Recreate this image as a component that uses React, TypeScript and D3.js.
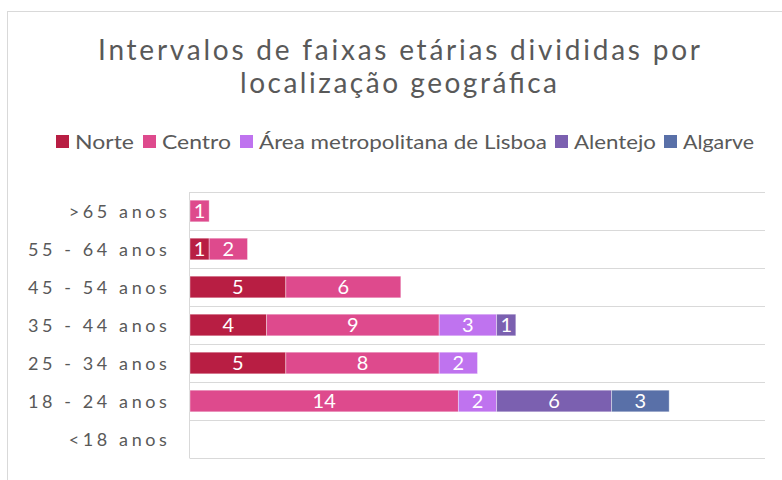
import React from "react";
import * as d3 from "d3";

const categories = [">65 anos", "55 - 64 anos", "45 - 54 anos", "35 - 44 anos", "25 - 34 anos", "18 - 24 anos", "<18 anos"];
const seriesNames = ["Norte", "Centro", "Área metropolitana de Lisboa", "Alentejo", "Algarve"];
const norte = [0, 1, 5, 4, 5, 0, 0];
const centro = [1, 2, 6, 9, 8, 14, 0];
const lisboa = [0, 0, 0, 3, 2, 2, 0];
const alentejo = [0, 0, 0, 1, 0, 6, 0];
const algarve = [0, 0, 0, 0, 0, 3, 0];
const colors = ["#B81E43", "#DE4A8D", "#BF73EF", "#7B60B0", "#5970A8"];
const xMax = 30;

const W = 782;
const H = 480;
const FONT = "Lato, 'Open Sans', sans-serif";
const plot = { left: 190, right: 765, top: 192, bottom: 458 };

export default function App() {
  const series = [norte, centro, lisboa, alentejo, algarve];
  const rows = categories.map((c, i) => {
    const r: any = { cat: c };
    seriesNames.forEach((s, j) => (r[s] = series[j][i]));
    return r;
  });
  const stack = d3.stack<any>().keys(seriesNames)(rows);
  const x = d3.scaleLinear().domain([0, xMax]).range([plot.left, plot.right]);
  const y = d3.scaleBand().domain(categories).range([plot.top, plot.bottom]).paddingInner(0.43).paddingOuter(0.215);
  const yb = d3.scaleBand().domain(categories).range([plot.top, plot.bottom]);
  const bounds = [...categories.map((c) => yb(c) as number), plot.bottom];

  const legendX = [56, 143, 240, 555, 664];
  const legendW = [59, 69, 288, 82, 71];

  return (
    <svg width={W} height={H} style={{ position: "absolute", left: 0, top: 0 }}>
      <rect x={0} y={0} width={W} height={H} fill="#fff" />
      <rect x={7.5} y={11.5} width={W} height={H} fill="#fff" stroke="#d9d9d9" strokeWidth={1} />
      <text x={399} y={60} textAnchor="middle" fontFamily={FONT} fontSize={28} fill="#595959" textLength={602} lengthAdjust="spacing">
        Intervalos de faixas etárias divididas por
      </text>
      <text x={398.5} y={93} textAnchor="middle" fontFamily={FONT} fontSize={28} fill="#595959" textLength={317} lengthAdjust="spacing">
        localização geográfica
      </text>
      {seriesNames.map((s, i) => (
        <g key={s}>
          <rect x={legendX[i]} y={135} width={13} height={13} fill={colors[i]} />
          <text x={legendX[i] + 19} y={148.5} fontFamily={FONT} fontSize={20} fill="#595959" textLength={legendW[i]} lengthAdjust="spacingAndGlyphs">
            {s}
          </text>
        </g>
      ))}
      {bounds.map((b, i) => (
        <line key={i} x1={plot.left} x2={plot.right} y1={Math.round(b) + 0.5} y2={Math.round(b) + 0.5} stroke="#d9d9d9" strokeWidth={1} />
      ))}
      <line x1={plot.left - 0.5} x2={plot.left - 0.5} y1={plot.top} y2={plot.bottom + 0.5} stroke="#d9d9d9" strokeWidth={1} />
      {stack.map((layer, j) => (
        <g key={layer.key}>
          {layer.map((d, i) => {
            const v = d[1] - d[0];
            if (v <= 0) return null;
            const x0 = x(d[0]);
            const x1 = x(d[1]);
            const yy = y(categories[i]) as number;
            return (
              <g key={i}>
                <rect x={x0} y={yy} width={x1 - x0} height={y.bandwidth()} fill={colors[j]} stroke="rgba(255,255,255,0.5)" strokeWidth={0.75} />
                <text x={(x0 + x1) / 2} y={yy + y.bandwidth() / 2 + 7} textAnchor="middle" fontFamily={FONT} fontSize={20} fill="#fff">
                  {v}
                </text>
              </g>
            );
          })}
        </g>
      ))}
      {categories.map((c) => (
        <text key={c} x={170.5} y={(yb(c) as number) + yb.bandwidth() / 2 + 6.5} textAnchor="end" fontFamily={FONT} fontSize={18} fill="#595959" letterSpacing={3.6}>
          {c}
        </text>
      ))}
    </svg>
  );
}
